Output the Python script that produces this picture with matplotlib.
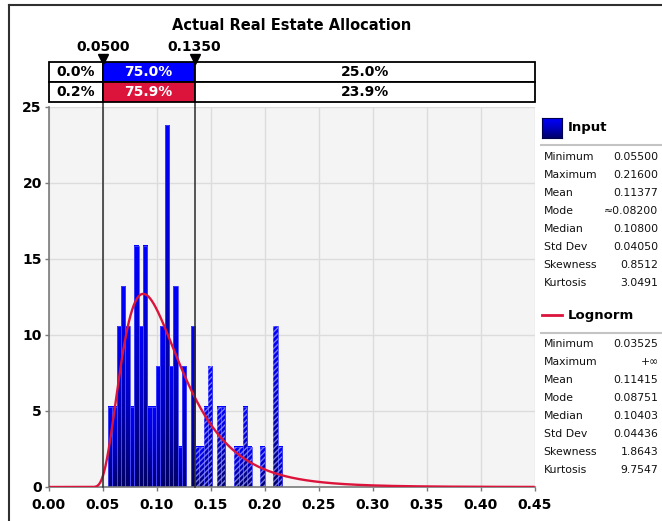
import numpy as np
import matplotlib
matplotlib.use("Agg")
import matplotlib.pyplot as plt
from matplotlib.colors import LinearSegmentedColormap
from matplotlib.patches import Rectangle
from matplotlib.lines import Line2D

plt.rcParams['font.family'] = ['DejaVu Sans']
plt.rcParams['hatch.linewidth'] = 1.0

# Histogram of the input samples: equal-width bins between min and max, density per bin
bin_start = 0.055
bin_end = 0.216
bin_count = 40
input_density = [5.29, 5.29, 10.57, 13.21, 10.57, 5.29, 15.86, 10.57, 15.86, 5.29,
                 5.29, 7.93, 10.57, 23.79, 7.93, 13.21, 2.64, 7.93, 0.0, 10.57,
                 2.64, 2.64, 5.29, 7.93, 0.0, 5.29, 5.29, 0.0, 0.0, 2.64,
                 2.64, 5.29, 2.64, 0.0, 0.0, 2.64, 0.0, 0.0, 10.57, 2.64]

# Fitted shifted lognormal
fit_shift = 0.03525
fit_mean = 0.11415
fit_std = 0.04436

# Delimiters and probability in each region
markers = [0.05, 0.135]
marker_labels = ["0.0500", "0.1350"]
input_pcts = ["0.0%", "75.0%", "25.0%"]
fit_pcts = ["0.2%", "75.9%", "23.9%"]

stat_names = ["Minimum", "Maximum", "Mean", "Mode", "Median", "Std Dev", "Skewness", "Kurtosis"]
input_stats = ["0.05500", "0.21600", "0.11377", "\u22480.08200", "0.10800", "0.04050", "0.8512", "3.0491"]
fit_stats = ["0.03525", "+\u221e", "0.11415", "0.08751", "0.10403", "0.04436", "1.8643", "9.7547"]

x_ticks = [0.00, 0.05, 0.10, 0.15, 0.20, 0.25, 0.30, 0.35, 0.40, 0.45]
y_ticks = [0, 5, 10, 15, 20, 25]

BLUE = "#0000ff"
RED = "#dc143c"

W, H = 662, 521
fig = plt.figure(figsize=(W / 100, H / 100), dpi=100)


def fx(px):
    return px / W


def fy(py):
    return 1 - py / H


PL, PR, PT, PB = 48.7, 534.7, 106.7, 487.0
ax = fig.add_axes([fx(PL), fy(PB), (PR - PL) / W, (PB - PT) / H])
ax.set_facecolor("#f4f4f4")

bar_cmap = LinearSegmentedColormap.from_list("bar", ["#000068", "#0000c0", BLUE])
grad = np.linspace(0, 1, 128).reshape(-1, 1)

edges = np.linspace(bin_start, bin_end, bin_count + 1)
width = edges[1] - edges[0]
for left, h in zip(edges[:-1], input_density):
    if h <= 0:
        continue
    ax.imshow(grad, extent=(left, left + width, 0, h), origin="lower", aspect="auto",
              cmap=bar_cmap, vmin=0, vmax=1, interpolation="bilinear", zorder=2)
    ax.add_patch(Rectangle((left, 0), width, h, fill=False, ec="#4646ff", lw=0.6, zorder=2.4))
    if left >= markers[1] - 1e-9:
        ax.add_patch(Rectangle((left, 0), width, h, facecolor="none",
                               edgecolor=(0.62, 0.62, 1.0, 0.75), hatch="//////",
                               lw=0, zorder=2.5))

# Lognormal density from the fitted parameters
m0 = fit_mean - fit_shift
sig2 = np.log(1 + (fit_std / m0) ** 2)
mu = np.log(m0) - sig2 / 2
xs = np.linspace(0, 0.45, 1200)
z = np.clip(xs - fit_shift, 1e-12, None)
pdf = np.where(xs > fit_shift,
               np.exp(-(np.log(z) - mu) ** 2 / (2 * sig2)) / (z * np.sqrt(2 * np.pi * sig2)), 0.0)
ax.plot(xs, pdf, color=RED, lw=1.7, zorder=5, solid_capstyle="butt")

ax.set_xlim(0, 0.45)
ax.set_ylim(0, 25)
ax.set_xticks(x_ticks)
ax.set_xticklabels([f"{t:.2f}" for t in x_ticks])
ax.set_yticks(y_ticks)
ax.set_yticklabels([str(t) for t in y_ticks])
ax.grid(True, color="#dcdcdc", lw=1, zorder=0)
ax.set_axisbelow(True)
for s in ("top", "right"):
    ax.spines[s].set_visible(False)
for s in ("left", "bottom"):
    ax.spines[s].set_color("#7a7a7a")
    ax.spines[s].set_linewidth(1.2)
ax.tick_params(axis="both", length=3, width=1, color="#7a7a7a", labelsize=10)
ax.tick_params(axis="x", pad=5)
ax.tick_params(axis="y", pad=2)
for lab in ax.get_xticklabels() + ax.get_yticklabels():
    lab.set_fontweight("bold")

# Delimiter lines through the table and plot
for m in markers:
    ax.axvline(m, ymin=0, ymax=(PB - 60) / (PB - PT), color="#2a2a2a", lw=1.1,
               zorder=6, clip_on=False)

# Probability table above the plot
TT, TB = 62.0, 102.0
tab = fig.add_axes([fx(PL), fy(TB), (PR - PL) / W, (TB - TT) / H])
tab.set_xlim(0, 0.45)
tab.set_ylim(0, 2)
tab.axis("off")
bounds = [0.0, markers[0], markers[1], 0.45]
for row, pcts, mid_color in ((1, input_pcts, BLUE), (0, fit_pcts, RED)):
    for i in range(3):
        l, r = bounds[i], bounds[i + 1]
        fc = mid_color if i == 1 else "white"
        tab.add_patch(Rectangle((l, row), r - l, 1, facecolor=fc, edgecolor="black",
                                lw=1.3, clip_on=False, zorder=2))
        tab.text((l + r) / 2, row + 0.5, pcts[i], ha="center", va="center",
                 fontsize=10, fontweight="bold",
                 color="white" if i == 1 else "black", zorder=3)
for m, lab in zip(markers, marker_labels):
    tab.plot([m], [2.17], marker="v", ms=7, color="black", clip_on=False, zorder=4)
    tab.annotate(lab, (m, 2), xytext=(0, 11), textcoords="offset points",
                 ha="center", va="center", fontsize=10, fontweight="bold")

fig.text(fx((PL + PR) / 2), fy(25), "Actual Real Estate Allocation", ha="center",
         va="center", fontsize=10.5, fontweight="bold")

# Statistics panel
sq = fig.add_axes([fx(541.5), fy(138), 20 / W, 20 / H])
sq.imshow(grad, cmap=bar_cmap, origin="lower", aspect="auto", vmin=0, vmax=1)
sq.set_xticks([])
sq.set_yticks([])
for s in sq.spines.values():
    s.set_color("#000050")
    s.set_linewidth(0.8)
fig.text(fx(568), fy(128), "Input", ha="left", va="center", fontsize=9.5, fontweight="bold")
fig.add_artist(Line2D([fx(541.5), fx(562)], [fy(315), fy(315)], color=RED, lw=2))
fig.text(fx(568), fy(315), "Lognorm", ha="left", va="center", fontsize=9.5, fontweight="bold")

for y_sep in (145, 333):
    fig.add_artist(Line2D([fx(541), fx(662)], [fy(y_sep), fy(y_sep)], color="#c4c4c4", lw=1.5))

for y0, vals in ((157, input_stats), (344.3, fit_stats)):
    for k, (name, val) in enumerate(zip(stat_names, vals)):
        yy = y0 + k * 18.0
        fig.text(fx(543.5), fy(yy), name, ha="left", va="center", fontsize=7.8, color="#111111")
        fig.text(fx(658.5), fy(yy), val, ha="right", va="center", fontsize=7.8, color="#111111")

# Outer frame
fig.add_artist(Line2D([fx(9), fx(9)], [fy(5), fy(521)], color="#303030", lw=1.5))
fig.add_artist(Line2D([fx(9), fx(662)], [fy(5), fy(5)], color="#303030", lw=1.5))

fig.savefig("out.png", dpi=100)
